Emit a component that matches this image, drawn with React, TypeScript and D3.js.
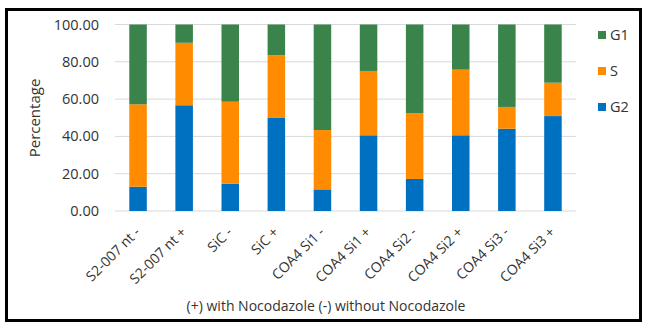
import React from "react";
import * as d3 from "d3";

// Cell-cycle phase distribution per sample (percent of cells)
const categories = [
  "S2-007 nt -",
  "S2-007 nt +",
  "SiC -",
  "SiC +",
  "COA4 Si1 -",
  "COA4 Si1 +",
  "COA4 Si2 -",
  "COA4 Si2 +",
  "COA4 Si3 -",
  "COA4 Si3 +",
];
const g2Values = [13.0, 56.7, 14.6, 49.9, 11.6, 40.6, 17.2, 40.6, 44.1, 50.9];
const sValues = [44.2, 33.5, 44.0, 33.6, 31.8, 34.5, 35.2, 35.2, 11.7, 17.9];
const g1Values = [42.8, 9.8, 41.4, 16.5, 56.6, 24.9, 47.6, 24.2, 44.2, 31.2];
const yTicks = [0, 20, 40, 60, 80, 100];
const seriesNames = ["G2", "S", "G1"];
const legendOrder = ["G1", "S", "G2"];
const colors: Record<string, string> = { G1: "#3A834B", S: "#FF8C00", G2: "#0070C0" };

const W = 645;
const H = 331;
const plot = { left: 115, right: 576, top: 24.5, bottom: 211 };
const FONT = "'Open Sans', 'Liberation Sans', sans-serif";
const TEXT = "#333333";

export default function App() {
  const rows = categories.map((c, i) => ({ cat: c, G2: g2Values[i], S: sValues[i], G1: g1Values[i] }));
  const stack = d3.stack<any>().keys(seriesNames)(rows);
  const x = d3.scaleBand<string>().domain(categories).range([plot.left, plot.right]).paddingInner(0.62).paddingOuter(0.31);
  const y = d3.scaleLinear().domain([0, 100]).range([plot.bottom, plot.top]);

  return (
    <svg width={W} height={H} style={{ position: "absolute", left: 0, top: 0, background: "#fff" }}>
      <rect x={0} y={0} width={W} height={H} fill="#fff" />
      <rect x={6.5} y={9.5} width={634} height={311} fill="none" stroke="#000" strokeWidth={3} />
      {yTicks.map((t) => (
        <g key={t}>
          <line x1={plot.left} x2={plot.right} y1={y(t)} y2={y(t)} stroke="#D9D9D9" strokeWidth={1} />
          <text x={99} y={y(t)} dy="0.35em" textAnchor="end" fontFamily={FONT} fontSize={14.5} fill={TEXT}>
            {d3.format(".2f")(t)}
          </text>
        </g>
      ))}
      {stack.map((layer) => (
        <g key={layer.key} fill={colors[layer.key]}>
          {layer.map((d, i) => (
            <rect
              key={i}
              x={x(categories[i])}
              width={x.bandwidth()}
              y={y(d[1])}
              height={y(d[0]) - y(d[1])}
            />
          ))}
        </g>
      ))}
      {categories.map((c) => {
        const cx = (x(c) as number) + x.bandwidth() / 2 + 3;
        return (
          <text
            key={c}
            transform={`translate(${cx},233) rotate(-45)`}
            textAnchor="end"
            fontFamily={FONT}
            fontSize={14}
            fill={TEXT}
          >
            {c}
          </text>
        );
      })}
      <text
        transform={`translate(40,118) rotate(-90)`}
        textAnchor="middle"
        fontFamily={FONT}
        fontSize={15}
        fill={TEXT}
      >
        Percentage
      </text>
      <text x={326} y={311} textAnchor="middle" fontFamily={FONT} fontSize={14} fill={TEXT}>
        (+) with Nocodazole (-) without Nocodazole
      </text>
      {legendOrder.map((k, i) => (
        <g key={k} transform={`translate(598,${35 + i * 36})`}>
          <rect x={0} y={-4} width={8} height={8} fill={colors[k]} />
          <text x={12} y={0} dy="0.35em" fontFamily={FONT} fontSize={14.5} fill={TEXT}>
            {k}
          </text>
        </g>
      ))}
    </svg>
  );
}
